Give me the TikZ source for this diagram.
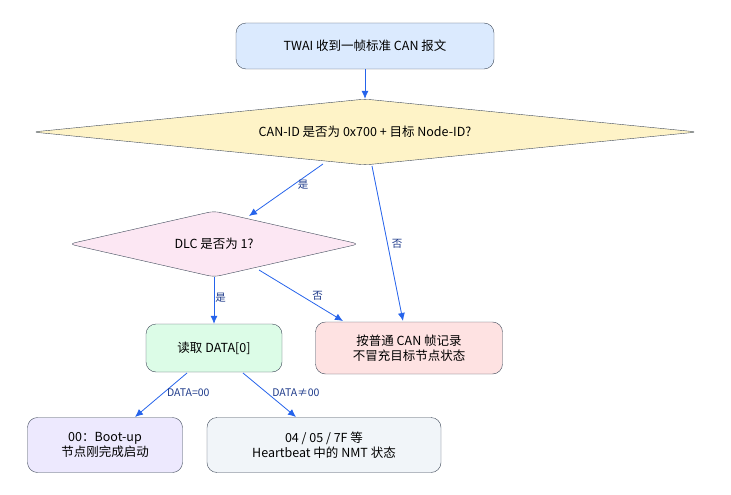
\documentclass[tikz,border=0pt]{standalone}
\usepackage{fontspec}
\setmainfont{Noto Sans CJK SC}
\usetikzlibrary{shapes.geometric,arrows.meta}
\definecolor{edgeblue}{HTML}{2563EB}
\definecolor{lblblue}{HTML}{1E3A8A}
\definecolor{bordr}{HTML}{3F4A5A}
\definecolor{fillrecv}{HTML}{DBEAFE}
\definecolor{fillnmt}{HTML}{FEF3C7}
\definecolor{filldlc}{HTML}{FCE7F3}
\definecolor{fillread}{HTML}{DCFCE7}
\definecolor{fillplain}{HTML}{FEE2E2}
\definecolor{fillboot}{HTML}{EDE9FE}
\definecolor{fillhb}{HTML}{F1F5F9}
\tikzset{
  box/.style={draw=bordr,rounded corners=10pt,align=center,font=\fontsize{12.5pt}{15pt}\selectfont,inner sep=0pt},
  dia/.style={draw=bordr,diamond,rounded corners=6pt,inner sep=0pt,font=\fontsize{12.5pt}{15pt}\selectfont},
  arr/.style={draw=edgeblue,thick,-{Latex[length=8pt,width=7pt]}},
  lbl/.style={font=\fontsize{10.5pt}{12pt}\selectfont,text=lblblue,inner sep=1pt}
}
\begin{document}
\begin{tikzpicture}[x=1pt,y=-1pt]
	\useasboundingbox (0,0) rectangle (731,495);
	\node[box,fill=fillrecv,minimum width=258pt,minimum height=46pt] (recv) at (365,46) {TWAI 收到一帧标准 CAN 报文};
	\node[dia,fill=fillnmt,aspect=10,minimum width=665pt,minimum height=66pt] (isnmt) at (365,132) {CAN-ID 是否为 0x700 + 目标 Node-ID?};
	\node[dia,fill=filldlc,aspect=4.4,minimum width=290pt,minimum height=66pt] (isdlc) at (214,244) {DLC 是否为 1?};
	\node[box,fill=fillread,minimum width=136pt,minimum height=48pt] (read) at (214,348) {读取 DATA[0]};
	\node[box,fill=fillplain,minimum width=187pt,minimum height=52pt] (plain) at (409,348) {按普通 CAN 帧记录\\不冒充目标节点状态};
	\node[box,fill=fillboot,minimum width=155pt,minimum height=55pt] (boot) at (105,445) {00：Boot-up\\节点刚完成启动};
	\node[box,fill=fillhb,minimum width=234pt,minimum height=55pt] (hb) at (324,445) {04 / 05 / 7F 等\\Heartbeat 中的 NMT 状态};
	% connectors
	\draw[arr] (recv) -- (isnmt);
	\path (isnmt) ++(-42,32) coordinate (s1) (isdlc) ++(35,-28) coordinate (e1);
	\draw[arr] (s1) -- node[lbl,pos=0.4,right=3pt]{是} (e1);
	\path (isnmt) ++(7,34) coordinate (s2) (plain) ++(-6,-27) coordinate (e2);
	\draw[arr] (s2) -- node[lbl,pos=0.5,right=3pt]{否} (e2);
	\draw[arr] (isdlc) -- node[lbl,pos=0.45,right=0pt]{是} (read);
	\path (isdlc) ++(45,26) coordinate (s3) (plain) ++(-66,-27) coordinate (e3);
	\draw[arr] (s3) -- node[lbl,pos=0.62,above right=0pt]{否} (e3);
	\path (read) ++(-27,25) coordinate (s4) (boot) ++(30,-28) coordinate (e4);
	\draw[arr] (s4) -- node[lbl,pos=0.45,right=2pt]{DATA=00} (e4);
	\path (read) ++(29,25) coordinate (s5) (hb) ++(-28,-28) coordinate (e5);
	\draw[arr] (s5) -- node[lbl,pos=0.45,right=4pt]{DATA≠00} (e5);
\end{tikzpicture}
\end{document}
